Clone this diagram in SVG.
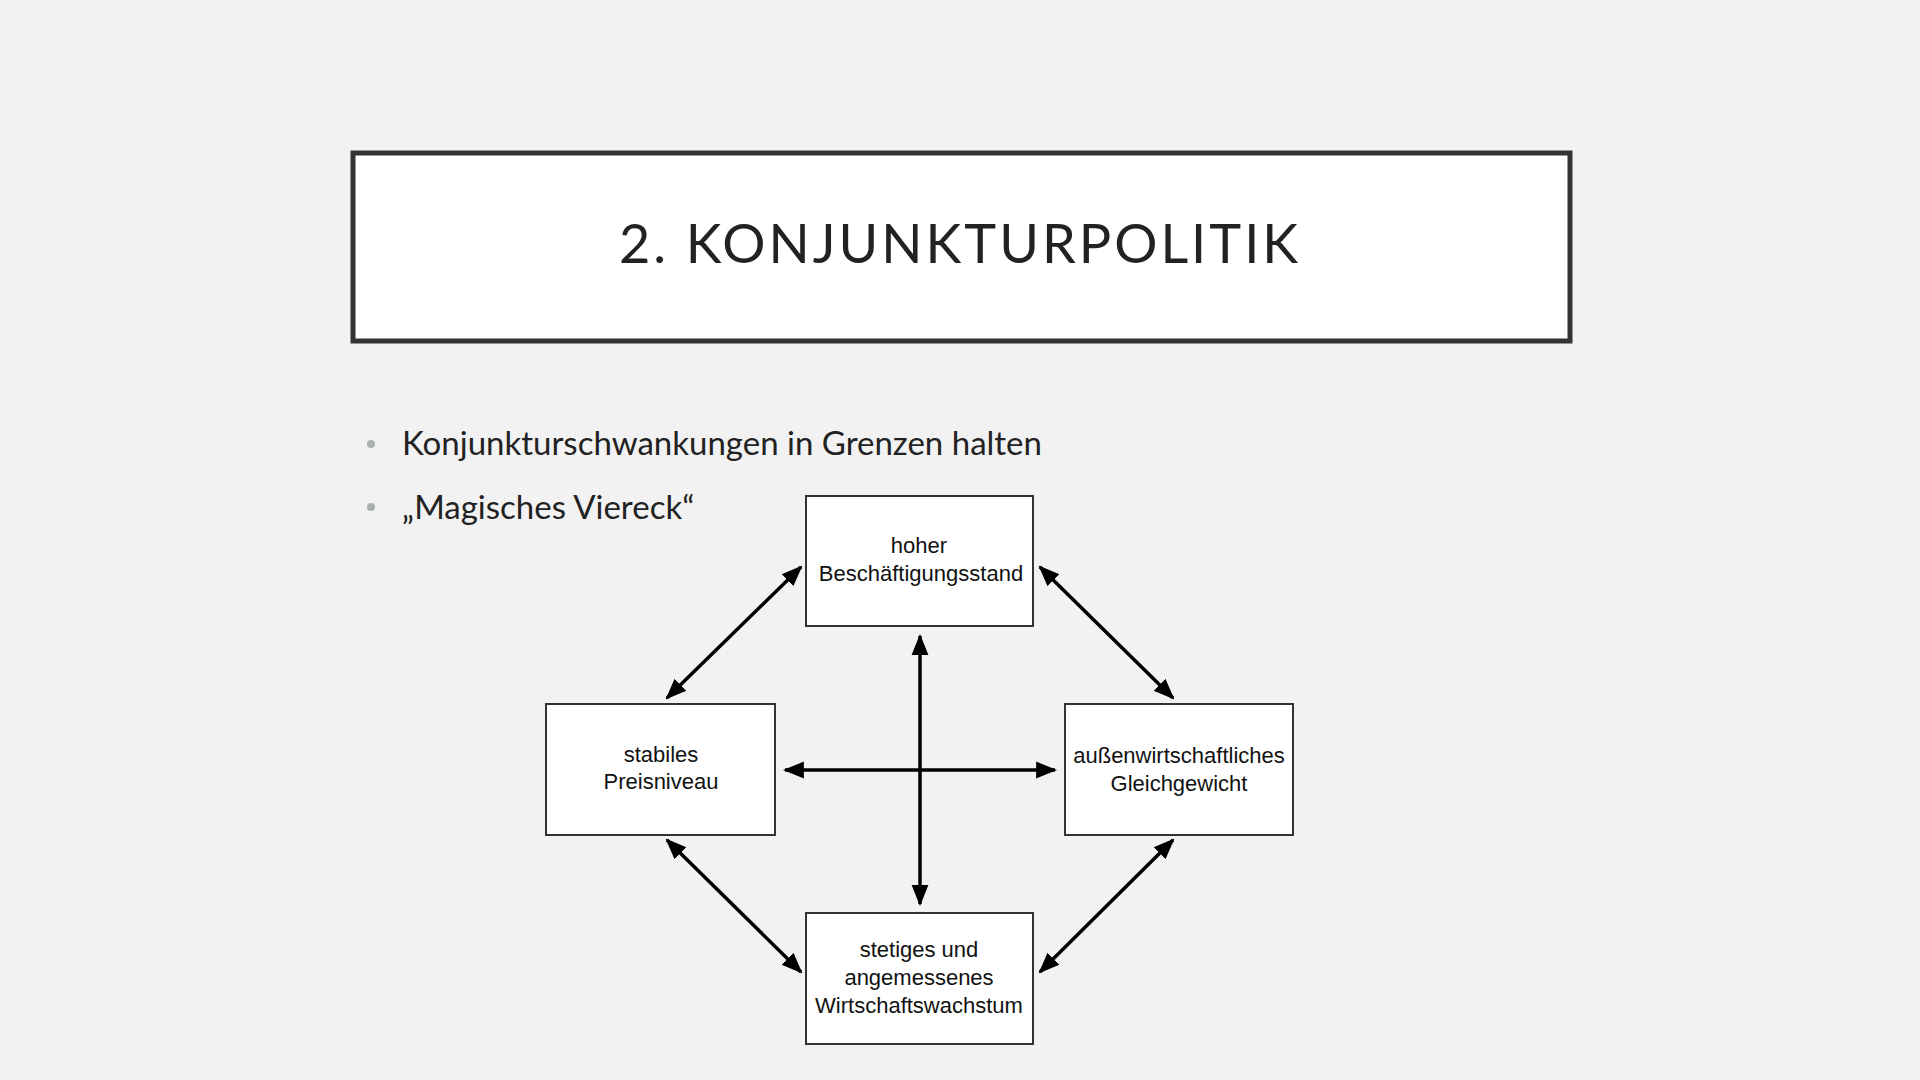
<svg xmlns="http://www.w3.org/2000/svg" width="1920" height="1080" viewBox="0 0 1920 1080">
<defs>
<style>
.box{fill:#fff;stroke:#333;stroke-width:2}
.bt{font-family:"Liberation Sans",Arial,sans-serif;font-size:22px;fill:#111;text-anchor:middle}
.con{stroke:#000;stroke-width:3.5;fill:none;marker-start:url(#ah);marker-end:url(#ah)}
.bl{font-family:Lato,"Open Sans",sans-serif;font-size:33px;fill:#222}
</style>
<marker id="ah" viewBox="0 0 10 10" refX="9" refY="5" markerWidth="6" markerHeight="6" orient="auto-start-reverse" markerUnits="strokeWidth"><path d="M0,1 L10,5 L0,9 z" fill="#000"/></marker>
</defs>
<rect width="1920" height="1080" fill="#f2f2f2"/>
<g id="title">
<rect x="353" y="153" width="1217" height="188" fill="#fff" stroke="#333" stroke-width="5"/>
<text x="960" y="263" font-family="Lato,'Open Sans',sans-serif" font-size="54" letter-spacing="3" text-anchor="middle" fill="#222">2. KONJUNKTURPOLITIK</text>
</g>
<g id="bullets">
<circle cx="371" cy="444" r="4" fill="#a9b1b0"/>
<text class="bl" x="402" y="455">Konjunkturschwankungen in Grenzen halten</text>
<circle cx="371" cy="507" r="4" fill="#a9b1b0"/>
<text class="bl" x="402" y="519">„Magisches Viereck“</text>
</g>
<g id="connectors">
<line class="con" x1="667" y1="698" x2="801" y2="567"/>
<line class="con" x1="1040" y1="567" x2="1173" y2="698"/>
<line class="con" x1="667" y1="840" x2="801" y2="972"/>
<line class="con" x1="1173" y1="840" x2="1040" y2="972"/>
<line class="con" x1="920" y1="636" x2="920" y2="904"/>
<line class="con" x1="785" y1="770" x2="1055" y2="770"/>
</g>
<g id="n-top"><rect class="box" x="806" y="496" width="227" height="130"/>
<text class="bt" x="919" y="553">hoher</text><text class="bt" x="921" y="581">Beschäftigungsstand</text></g>
<g id="n-left"><rect class="box" x="546" y="704" width="229" height="131"/>
<text class="bt" x="661" y="762">stabiles</text><text class="bt" x="661" y="789">Preisniveau</text></g>
<g id="n-right"><rect class="box" x="1065" y="704" width="228" height="131"/>
<text class="bt" x="1179" y="763">außenwirtschaftliches</text><text class="bt" x="1179" y="791">Gleichgewicht</text></g>
<g id="n-bottom"><rect class="box" x="806" y="913" width="227" height="131"/>
<text class="bt" x="919" y="957">stetiges und</text><text class="bt" x="919" y="985">angemessenes</text><text class="bt" x="919" y="1013">Wirtschaftswachstum</text></g>
</svg>
